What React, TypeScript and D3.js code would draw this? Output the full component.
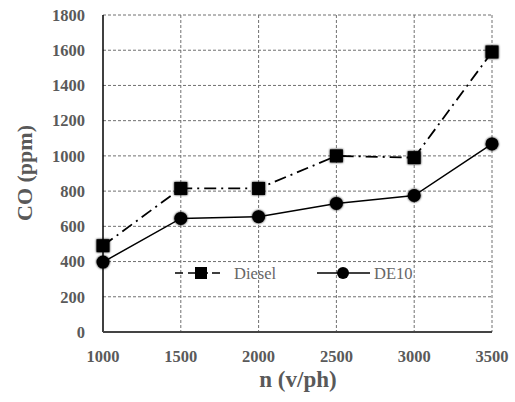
import React from "react";
import * as d3 from "d3";

const categories = [1000, 1500, 2000, 2500, 3000, 3500];
const dieselValues = [490, 815, 815, 1000, 990, 1590];
const de10Values = [397, 645, 655, 730, 775, 1068];
const yTicks = [0, 200, 400, 600, 800, 1000, 1200, 1400, 1600, 1800];
const seriesNames = ["Diesel", "DE10"];

const W = 515, H = 402;
const L = 103, R = 492, T = 15, B = 332;

export default function App() {
  const x = d3.scaleLinear().domain([1000, 3500]).range([L, R]);
  const y = d3.scaleLinear().domain([0, 1800]).range([B, T]);
  const line = d3.line<number>().x((_, i) => x(categories[i])).y((d) => y(d));
  const font = "'Liberation Serif', 'Times New Roman', serif";
  const tickColor = "#5a5a5a";
  return (
    <svg width={W} height={H} style={{ position: "absolute", left: 0, top: 0, background: "#fff" }}>
      <defs>
        <filter id="soft" x="-50%" y="-50%" width="200%" height="200%">
          <feGaussianBlur in="SourceAlpha" stdDeviation="1.2" />
          <feOffset dx="0" dy="0" result="b" />
          <feMerge><feMergeNode in="b" /><feMergeNode in="SourceGraphic" /></feMerge>
        </filter>
      </defs>
      {/* grid */}
      {yTicks.filter((t) => t > 0).map((t) => (
        <line key={"gy" + t} x1={L} x2={R} y1={y(t)} y2={y(t)} stroke="#707070" strokeWidth={1} strokeDasharray="3,2" />
      ))}
      {categories.filter((c) => c > 1000).map((c) => (
        <line key={"gx" + c} x1={x(c)} x2={x(c)} y1={T} y2={B} stroke="#707070" strokeWidth={1} strokeDasharray="3,2" />
      ))}
      {/* axes */}
      <line x1={L} x2={L} y1={T} y2={B} stroke="#000" strokeWidth={1.5} />
      <line x1={L} x2={R} y1={B} y2={B} stroke="#444" strokeWidth={2} />
      {/* y ticks */}
      {yTicks.map((t) => (
        <text key={"ty" + t} x={85} y={y(t)} dy="0.35em" textAnchor="end" fontFamily={font} fontWeight="bold" fontSize={16.5} fill={tickColor}>{t}</text>
      ))}
      {categories.map((c) => (
        <text key={"tx" + c} x={x(c)} y={356} dy="0.35em" textAnchor="middle" fontFamily={font} fontWeight="bold" fontSize={16.5} fill={tickColor}>{c}</text>
      ))}
      {/* series */}
      <path d={line(dieselValues) || ""} fill="none" stroke="#000" strokeWidth={1.8} strokeDasharray="12,5,2,5" />
      <path d={line(de10Values) || ""} fill="none" stroke="#000" strokeWidth={1.5} />
      <g filter="url(#soft)">
        {dieselValues.map((v, i) => (
          <rect key={"d" + i} x={x(categories[i]) - 6.5} y={y(v) - 6.5} width={13} height={13} fill="#000" />
        ))}
        {de10Values.map((v, i) => (
          <circle key={"e" + i} cx={x(categories[i])} cy={y(v)} r={6.5} fill="#000" />
        ))}
      </g>
      {/* legend */}
      <line x1={175} x2={223} y1={273} y2={273} stroke="#000" strokeWidth={1.5} strokeDasharray="8,5,12,6,2,4" />
      <rect x={195} y={267} width={12} height={12} fill="#000" />
      <text x={234} y={273} dy="0.35em" fontFamily={font} fontSize={16.5} fill="#666">{seriesNames[0]}</text>
      <line x1={317} x2={370} y1={273} y2={273} stroke="#000" strokeWidth={1.5} />
      <circle cx={343} cy={273} r={6} fill="#000" />
      <text x={374} y={273} dy="0.35em" fontFamily={font} fontSize={16.5} fill="#666">{seriesNames[1]}</text>
      {/* axis titles */}
      <text x={298} y={387} textAnchor="middle" fontFamily={font} fontWeight="bold" fontSize={23} fill="#595959">n (v/ph)</text>
      <text transform={`translate(32,173) rotate(-90)`} textAnchor="middle" fontFamily={font} fontWeight="bold" fontSize={22} fill="#595959">CO (ppm)</text>
    </svg>
  );
}
